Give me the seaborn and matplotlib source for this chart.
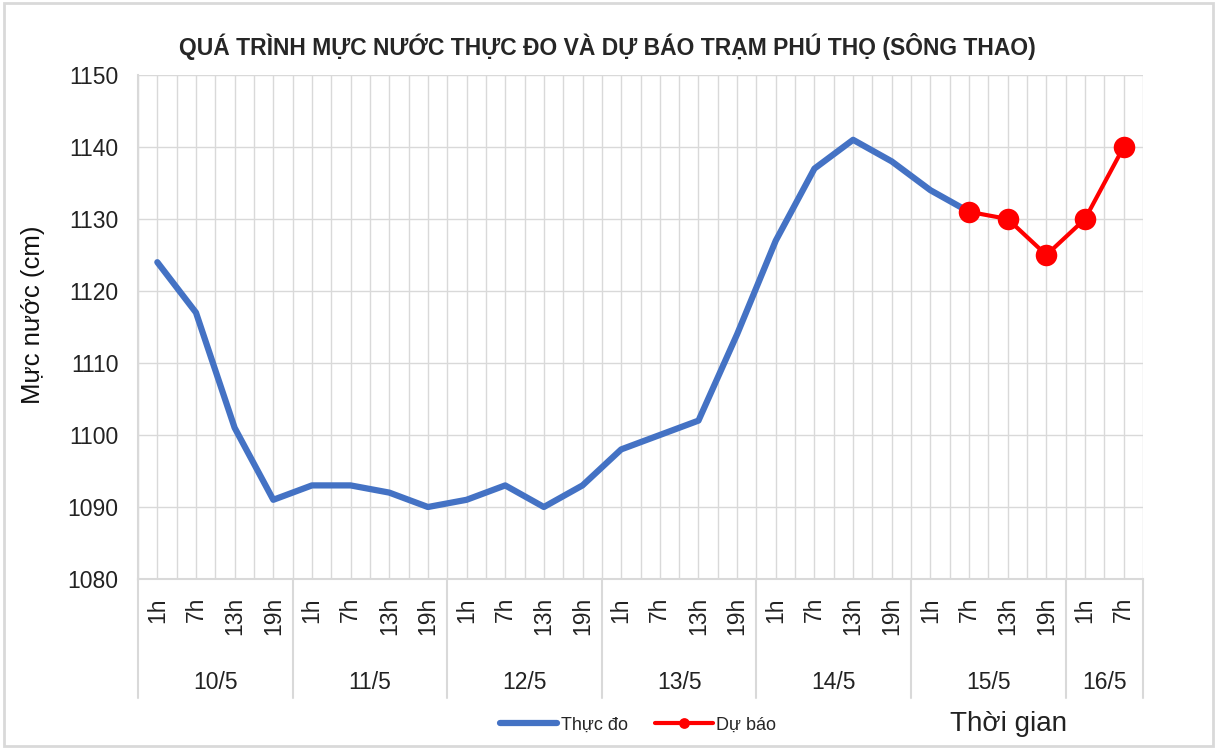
import numpy as np
import pandas as pd
import seaborn as sns
import matplotlib.pyplot as plt
import matplotlib.transforms as mtransforms
from matplotlib.patches import Rectangle

days = ["10/5", "11/5", "12/5", "13/5", "14/5", "15/5", "16/5"]
hours = ["1h", "7h", "13h", "19h"]
hours_per_day = [4, 4, 4, 4, 4, 4, 2]

# muc nuoc thuc do (cm)
observed = [1124, 1117, 1101, 1091,
            1093, 1093, 1092, 1090,
            1091, 1093, 1090, 1093,
            1098, 1100, 1102, 1114,
            1127, 1137, 1141, 1138,
            1134, 1131]
# du bao, bat dau tu 15/5 7h
forecast = [1131, 1130, 1125, 1130, 1140]
forecast_start = 21

y_ticks = [1080, 1090, 1100, 1110, 1120, 1130, 1140, 1150]

tick_labels = []
for n in hours_per_day:
    tick_labels += hours[:n]
n_points = len(tick_labels)

df_obs = pd.DataFrame({"pos": np.arange(len(observed)), "level": observed})
df_fc = pd.DataFrame({"pos": np.arange(forecast_start, forecast_start + len(forecast)),
                      "level": forecast})

sns.set_style("white")
plt.rcParams["font.family"] = ["Liberation Sans", "DejaVu Sans"]

fig = plt.figure(figsize=(12.17, 7.49), dpi=100)
ax = fig.add_axes([138 / 1217, 1 - 579 / 749, (1143 - 138) / 1217, (579 - 75) / 749])

grid_c = "#d9d9d9"
sns.lineplot(data=df_obs, x="pos", y="level", color="#4472C4", lw=4.5, ax=ax,
             label="Thực đo", solid_capstyle="round")
sns.lineplot(data=df_fc, x="pos", y="level", color="#FF0000", lw=3, ax=ax,
             marker="o", markersize=15.5, markeredgewidth=0, label="Dự báo")

ax.set_xlim(-0.5, n_points - 0.5)
ax.set_ylim(y_ticks[0], y_ticks[-1])
ax.set_yticks(y_ticks)
ax.set_xticks(np.arange(n_points))
ax.set_xticks(np.arange(n_points + 1) - 0.5, minor=True)
ax.set_xticklabels(tick_labels, rotation=90, fontsize=16.5, color="#222222")
ax.tick_params(axis="x", which="both", length=0, pad=13)
ax.tick_params(axis="y", length=0, pad=14, labelsize=16.5, labelcolor="#222222")
ax.grid(True, which="both", color=grid_c, lw=1)
ax.set_axisbelow(True)
for side in ["top", "right"]:
    ax.spines[side].set_visible(False)
for side in ["left", "bottom"]:
    ax.spines[side].set_color(grid_c)
    ax.spines[side].set_linewidth(1.5)
ax.set_xlabel("")
ax.set_ylabel("Mực nước (cm)", fontsize=18.5, color="#111111")
ax.yaxis.set_label_coords((45 - 138) / 1005, (579 - 315) / 504)
ax.get_legend().remove()

# vach chia ngay va nhan ngay
trans = mtransforms.blended_transform_factory(ax.transData, ax.transAxes)
bounds = np.concatenate([[0], np.cumsum(hours_per_day)]) - 0.5
for b in bounds:
    ax.plot([b, b], [0, -0.236], transform=trans, color=grid_c, lw=1.5, clip_on=False)
for i, d in enumerate(days):
    ax.text((bounds[i] + bounds[i + 1]) / 2, -0.206, d, transform=trans,
            ha="center", va="center", fontsize=16.5, color="#222222")

fig.suptitle("QUÁ TRÌNH MỰC NƯỚC THỰC ĐO VÀ DỰ BÁO TRẠM PHÚ THỌ (SÔNG THAO)",
             x=607 / 1217, y=1 - 46 / 749, va="center", fontsize=16.5, fontweight="bold")

handles, labels = ax.get_legend_handles_labels()
fig.legend(handles, labels, loc="center", bbox_to_anchor=(638 / 1217, 1 - 725 / 749),
           ncol=2, frameon=False, fontsize=13, handlelength=3.2, handletextpad=0.2,
           columnspacing=1.5, markerscale=0.5)
fig.text(1008 / 1217, 1 - 724 / 749, "Thời gian", ha="center", va="center",
         fontsize=20, color="#222222")

fig.patches.append(Rectangle((4 / 1217, 3 / 749), 1209 / 1217, 743 / 749,
                             transform=fig.transFigure, fill=False, ec=grid_c, lw=2))

fig.savefig("out.png", dpi=100)
